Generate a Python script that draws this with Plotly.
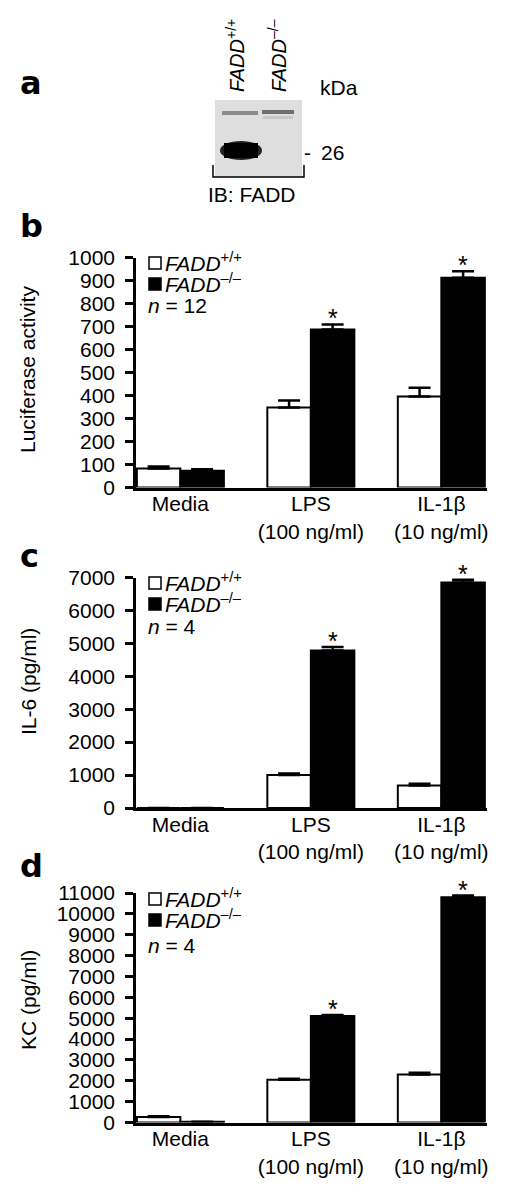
import plotly.graph_objects as go

W, H = 511, 1195
OFF = 8  # page body margin of the html page
FONT = "Liberation Sans, Arial, Helvetica, sans-serif"
FS = 21

# ---------------- data ----------------
categories = ["Media", "LPS", "IL-1β"]
tick_labels = ["Media", "LPS<br>(100 ng/ml)", "IL-1β<br>(10 ng/ml)"]
series_names = ["FADD+/+", "FADD–/–"]

luc_wt = [83, 348, 396]
luc_wt_err = [8, 30, 38]
luc_ko = [73, 687, 912]
luc_ko_err = [6, 22, 28]

il6_wt = [0, 1000, 680]
il6_wt_err = [0, 50, 60]
il6_ko = [0, 4780, 6850]
il6_ko_err = [0, 110, 80]

kc_wt = [260, 2050, 2300]
kc_wt_err = [40, 50, 80]
kc_ko = [30, 5100, 10800]
kc_ko_err = [0, 50, 80]

signif_idx = [1, 2]  # asterisks over FADD-/- bars

luc_ticks = list(range(0, 1001, 100))
il6_ticks = list(range(0, 7001, 1000))
kc_ticks = list(range(0, 11001, 1000))

BARGAP = 0.333


def px(x):
    return (x - OFF) / W


def py(y):
    return 1 - (y - OFF) / H


def txt(x, y, text, size=FS, xanchor="center", yanchor="middle", angle=0, family=FONT):
    return dict(x=px(x), y=py(y), xref="paper", yref="paper", text=text, showarrow=False,
                xanchor=xanchor, yanchor=yanchor, textangle=angle,
                font=dict(family=family, size=size, color="black"))


panels = [
    dict(letter="b", letter_y=226, wt=luc_wt, wte=luc_wt_err, ko=luc_ko, koe=luc_ko_err,
         ticks=luc_ticks, top=257.5, bottom=487.5, title="Luciferase activity", title_y=370,
         n="12", rows=(263, 284, 306)),
    dict(letter="c", letter_y=556, wt=il6_wt, wte=il6_wt_err, ko=il6_ko, koe=il6_ko_err,
         ticks=il6_ticks, top=577.5, bottom=808, title="IL-6 (pg/ml)", title_y=682,
         n="4", rows=(583, 604, 626)),
    dict(letter="d", letter_y=866, wt=kc_wt, wte=kc_wt_err, ko=kc_ko, koe=kc_ko_err,
         ticks=kc_ticks, top=893, bottom=1122.5, title="KC (pg/ml)", title_y=1000,
         n="4", rows=(899, 920, 945)),
]

fig = go.Figure()
annotations = []
shapes = []

for i, p in enumerate(panels):
    k = "" if i == 0 else str(i + 1)
    xa, ya = "x" + k, "y" + k
    for vals, errs, color, name in [(p["wt"], p["wte"], "white", series_names[0]),
                                    (p["ko"], p["koe"], "black", series_names[1])]:
        fig.add_trace(go.Bar(
            x=categories, y=vals, name=name, xaxis=xa, yaxis=ya, showlegend=False,
            marker=dict(color=color, line=dict(color="black", width=2)),
            error_y=dict(type="data", symmetric=False, array=errs, arrayminus=[0] * len(errs),
                         color="black", thickness=2.5, width=11),
        ))
    axis_common = dict(showline=True, linecolor="black", linewidth=2.5, showgrid=False,
                       zeroline=False, automargin=False,
                       tickfont=dict(family=FONT, size=FS, color="black"))
    fig.update_layout(**{
        "xaxis" + k: dict(domain=[px(136), px(487)], anchor=ya, type="category",
                          categoryorder="array", categoryarray=categories,
                          tickvals=categories, ticktext=tick_labels,
                          range=[-0.34, 2.35], ticks="", ticklabelstandoff=-4,
                          **axis_common),
        "yaxis" + k: dict(domain=[py(p["bottom"]), py(p["top"])], anchor=xa,
                          range=[0, p["ticks"][-1]], tickvals=p["ticks"],
                          ticktext=[str(v) for v in p["ticks"]],
                          ticks="outside", ticklen=8, tickwidth=2.5, tickcolor="black",
                          ticklabelstandoff=6, **axis_common),
    })
    # significance asterisks
    off = (1 - BARGAP) / 4
    for j in signif_idx:
        annotations.append(dict(
            x=j + off, y=p["ko"][j] + p["koe"][j], xref=xa, yref=ya, text="*",
            showarrow=False, xanchor="center", yanchor="middle", yshift=6,
            font=dict(family=FONT, size=25, color="black")))
    # axis title
    annotations.append(txt(28, p["title_y"], p["title"], angle=-90))
    # panel letter
    annotations.append(txt(18, p["letter_y"], "<b>%s</b>" % p["letter"], size=32,
                           xanchor="left", family="DejaVu Sans"))
    # legend
    r1, r2, r3 = p["rows"]
    for rc, fill in [(r1, "white"), (r2, "black")]:
        shapes.append(dict(type="rect", xref="paper", yref="paper",
                           x0=px(149), x1=px(161), y0=py(rc + 6), y1=py(rc - 6),
                           fillcolor=fill, line=dict(color="black", width=1.5)))
    annotations.append(txt(163, r1 - 1, "<i>FADD</i><sup>+/+</sup>", xanchor="left"))
    annotations.append(txt(163, r2 - 1, "<i>FADD</i><sup>–/–</sup>", xanchor="left"))
    annotations.append(txt(146, r3, "<i>n</i> = %s" % p["n"], xanchor="left"))

# ---------------- panel a (western blot) ----------------
annotations.append(txt(18, 83, "<b>a</b>", size=32, xanchor="left", family="DejaVu Sans"))
shapes += [
    dict(type="rect", xref="paper", yref="paper", x0=px(215), x1=px(302), y0=py(177), y1=py(100),
         fillcolor="#dedede", line=dict(width=0)),
    dict(type="rect", xref="paper", yref="paper", x0=px(222), x1=px(258), y0=py(115), y1=py(111),
         fillcolor="#8c8c8c", line=dict(width=0)),
    dict(type="rect", xref="paper", yref="paper", x0=px(262), x1=px(294), y0=py(114), y1=py(110),
         fillcolor="#6e6e6e", line=dict(width=0)),
    dict(type="rect", xref="paper", yref="paper", x0=px(263), x1=px(293), y0=py(119), y1=py(116),
         fillcolor="#c8c8c8", line=dict(width=0)),
    dict(type="circle", xref="paper", yref="paper", x0=px(220), x1=px(262), y0=py(160), y1=py(141),
         fillcolor="#222222", line=dict(width=0)),
    dict(type="rect", xref="paper", yref="paper", x0=px(224), x1=px(258), y0=py(158), y1=py(143),
         fillcolor="black", line=dict(width=0)),
    dict(type="path", xref="paper", yref="paper",
         path="M %f %f L %f %f L %f %f L %f %f" % (px(213), py(165), px(213), py(177),
                                                  px(304), py(177), px(304), py(165)),
         line=dict(color="black", width=1.5)),
]
for xc, sup in [(236, "+/+"), (278, "–/–")]:
    annotations.append(txt(xc, 56, "<i>FADD</i><sup>%s</sup>" % sup, size=20, angle=-90))
annotations += [
    txt(339, 88, "kDa"),
    txt(307, 152, "-"),
    txt(332, 152, "26"),
    txt(252, 195, "IB: FADD"),
]

fig.update_layout(
    template="none",
    width=W, height=H, margin=dict(l=0, r=0, t=0, b=0, autoexpand=False),
    paper_bgcolor="white", plot_bgcolor="white",
    barmode="group", bargap=BARGAP, bargroupgap=0, showlegend=False,
    font=dict(family=FONT, size=FS, color="black"),
    annotations=annotations, shapes=shapes,
)

fig.write_html("out.html")
